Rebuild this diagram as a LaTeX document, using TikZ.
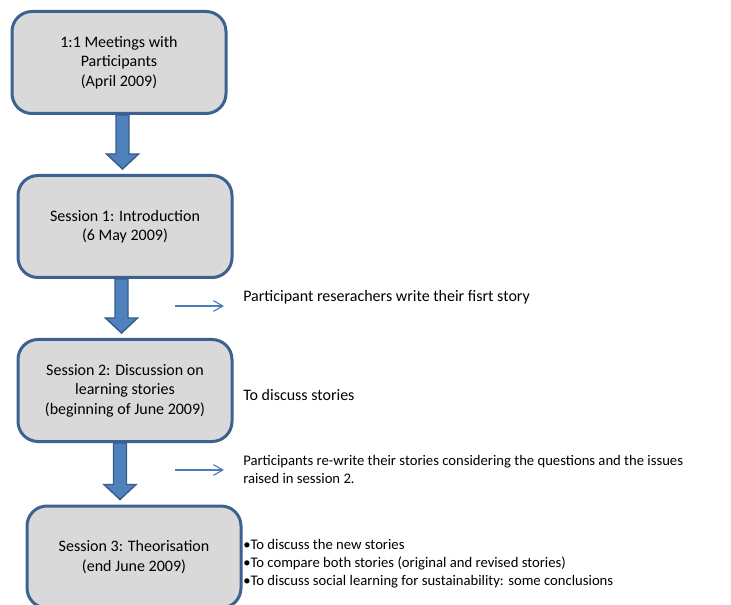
\documentclass[tikz,border=0pt]{standalone}
\usepackage{fontspec}
\setmainfont{Carlito}
\usetikzlibrary{calc,arrows.meta}

\definecolor{stageline}{RGB}{60,98,145}
\definecolor{stagefill}{RGB}{217,217,217}
\definecolor{linkfill}{RGB}{79,129,189}
\definecolor{linkline}{RGB}{56,93,138}
\definecolor{pointercol}{RGB}{74,126,187}

\tikzset{
  stage/.style={draw=stageline, fill=stagefill, line width=2.25pt,
    rounded corners=15pt, minimum width=160.5pt, minimum height=76.5pt,
    align=center, inner sep=0pt, font=\fontsize{12}{14.6}\selectfont},
  note/.style={anchor=west, align=left, inner sep=0pt,
    font=\fontsize{12}{14.6}\selectfont},
  smallnote/.style={note, font=\fontsize{11}{13.5}\selectfont},
  blocklink/.style={fill=linkfill, draw=linkline, line width=1.1pt, line join=miter},
  pointer/.style={draw=pointercol, line width=0.9pt,
    -{Straight Barb[length=7pt,width=8pt,line width=0.9pt]}}
}

% thick block arrow from the bottom of one stage to just above the next
\newcommand\stagelink[3]{%
  \filldraw[blocklink] let \p1=($(#1.south)+(#3,0)$), \p2=($(#2.north)+(0,-5)$) in
    (\x1-4.875pt,\y1) -- (\x1-4.875pt,\y2+11.25pt) -- (\x1-12pt,\y2+11.25pt)
    -- (\x1,\y2) -- (\x1+12pt,\y2+11.25pt) -- (\x1+4.875pt,\y2+11.25pt)
    -- (\x1+4.875pt,\y1) -- cycle;}

\begin{document}
\begin{tikzpicture}[x=0.75pt,y=-0.75pt]
\useasboundingbox (0,0) rectangle (731,605);

% stages
\node[stage] (b1) at (119,62.5) {1:1 Meetings with\\Participants\\(April 2009)};
\node[stage] (b2) at (125,226.5) {Session 1: Introduction\\(6 May 2009)};
\node[stage] (b3) at (125,390.5) {Session 2: Discussion on\\learning stories\\(beginning of June 2009)};
\node[stage] (b4) at (134,557) {Session 3: Theorisation\\(end June 2009)};

% links between stages
\stagelink{b1}{b2}{3.5}
\stagelink{b2}{b3}{-3.5}
\stagelink{b3}{b4}{-5}

% side notes
\node[note] (n1) at (243,297) {Participant reserachers write their fisrt story};
\node[note] (n2) at (243,395) {To discuss stories};
\node[smallnote] (n3) at (243,469) {Participants re-write their stories considering the questions and the issues\\raised in session 2.};
\node[smallnote] (n4) at (243,564) {•To discuss the new stories\\•To compare both stories (original and revised stories)\\•To discuss social learning for sustainability: some conclusions};

% small pointers toward the notes
\coordinate (p1a) at (175,306);
\coordinate (p1b) at (224,306);
\coordinate (p2a) at (175,470);
\coordinate (p2b) at (224,470);
\draw[pointer] (p1a) -- (p1b);
\draw[pointer] (p2a) -- (p2b);
\end{tikzpicture}
\end{document}
